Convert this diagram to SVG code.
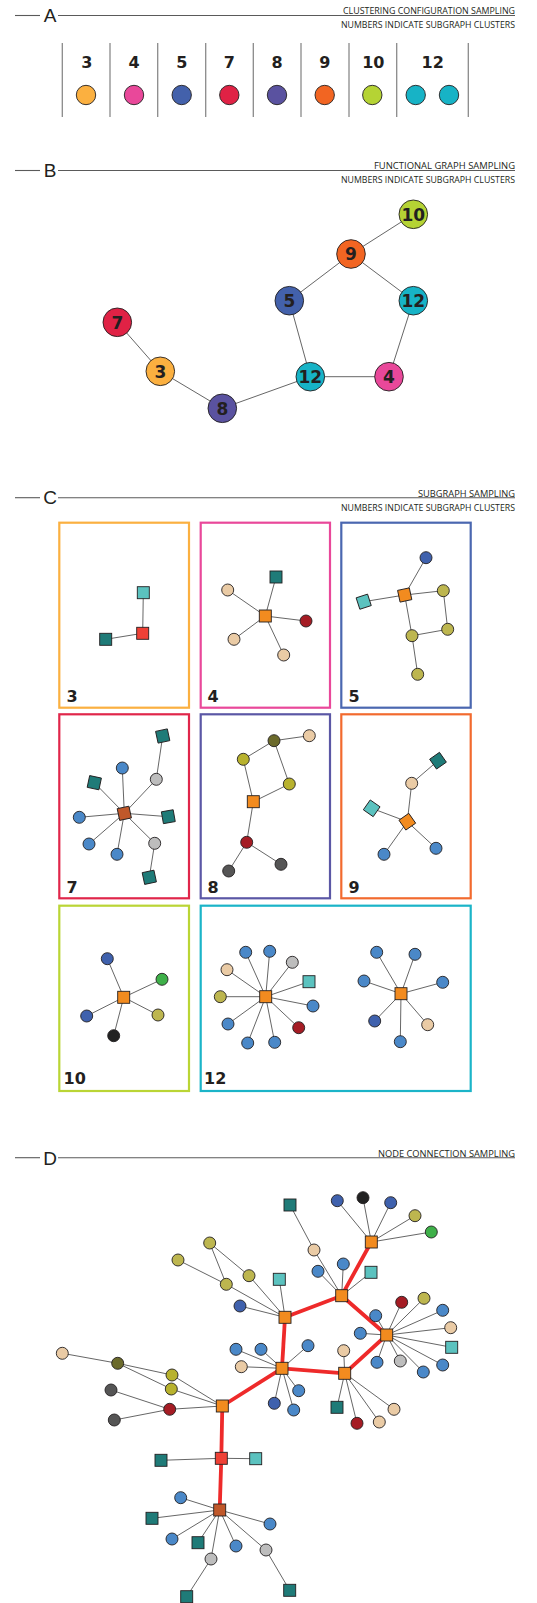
<svg xmlns="http://www.w3.org/2000/svg" width="537" height="1603" viewBox="0 0 537 1603">
<style>
.hl{stroke:#5a5a5a;stroke-width:1.1;fill:none}
.dv{stroke:#8a8a8a;stroke-width:1.3}
.sl{font-family:"Liberation Sans",Arial,sans-serif;font-size:19px;fill:#231F20}
.ht{font-family:"Open Sans","Liberation Sans",sans-serif;font-size:8.5px;fill:#231F20}
.num{font-family:"DejaVu Sans",Verdana,sans-serif;font-weight:bold;font-size:16px;fill:#231F20;text-anchor:middle}
.bn{font-family:"DejaVu Sans",Verdana,sans-serif;font-weight:bold;font-size:17px;fill:#231F20;text-anchor:middle}
.bl{font-family:"DejaVu Sans",Verdana,sans-serif;font-weight:bold;font-size:16px;fill:#231F20}
.n{stroke:#231F20;stroke-width:0.9}
.e{stroke:#4a4a4a;stroke-width:0.85}
.r{stroke:#EE2A2A;stroke-width:3.8;stroke-linecap:round}
.bx{fill:none;stroke-width:2.2}
.k3{fill:#FBB040}.k4{fill:#E9489A}.k5{fill:#4361AB}.k7{fill:#E02245}.k8{fill:#5A52A0}.k9{fill:#F26522}.k10{fill:#B5D334}.k12{fill:#17B3C6}
.org{fill:#F28B1F}.dt{fill:#1F7B78}.lt{fill:#5BC2BF}.rs{fill:#EF4136}.ru{fill:#C0582A}.tan{fill:#EACBA5}.dr{fill:#A51C24}
.lb{fill:#4A88C8}.db{fill:#3F61AD}.ol{fill:#BDB64F}.yo{fill:#B8B22E}.do{fill:#6B6A2B}.gr{fill:#BDBDBD}.dg{fill:#555555}.bk{fill:#222222}.gn{fill:#3EB049}
</style>

<!-- Section headers -->
<g id="header-A">
<line class="hl" x1="15" y1="15.5" x2="40" y2="15.5"/><line class="hl" x1="58" y1="15.5" x2="515" y2="15.5"/>
<text class="sl" x="50" y="22" text-anchor="middle">A</text>
<text class="ht" x="515" y="14" text-anchor="end" textLength="172" lengthAdjust="spacingAndGlyphs">CLUSTERING CONFIGURATION SAMPLING</text>
<text class="ht" x="515" y="28.3" text-anchor="end" textLength="174" lengthAdjust="spacingAndGlyphs">NUMBERS INDICATE SUBGRAPH CLUSTERS</text>
</g>
<g id="header-B">
<line class="hl" x1="15" y1="170.5" x2="40" y2="170.5"/><line class="hl" x1="58" y1="170.5" x2="515" y2="170.5"/>
<text class="sl" x="50" y="177" text-anchor="middle">B</text>
<text class="ht" x="515" y="169" text-anchor="end" textLength="141" lengthAdjust="spacingAndGlyphs">FUNCTIONAL GRAPH SAMPLING</text>
<text class="ht" x="515" y="183.3" text-anchor="end" textLength="174" lengthAdjust="spacingAndGlyphs">NUMBERS INDICATE SUBGRAPH CLUSTERS</text>
</g>
<g id="header-C">
<line class="hl" x1="15" y1="497.7" x2="40" y2="497.7"/><line class="hl" x1="58" y1="497.7" x2="515" y2="497.7"/>
<text class="sl" x="50" y="504.3" text-anchor="middle">C</text>
<text class="ht" x="515" y="496.7" text-anchor="end" textLength="97" lengthAdjust="spacingAndGlyphs">SUBGRAPH SAMPLING</text>
<text class="ht" x="515" y="510.5" text-anchor="end" textLength="174" lengthAdjust="spacingAndGlyphs">NUMBERS INDICATE SUBGRAPH CLUSTERS</text>
</g>
<g id="header-D">
<line class="hl" x1="15" y1="1157.7" x2="40" y2="1157.7"/><line class="hl" x1="58" y1="1157.7" x2="515" y2="1157.7"/>
<text class="sl" x="50" y="1164.5" text-anchor="middle">D</text>
<text class="ht" x="515" y="1156.7" text-anchor="end" textLength="137" lengthAdjust="spacingAndGlyphs">NODE CONNECTION SAMPLING</text>
</g>

<!-- Section A -->
<g id="A-dividers">
<line class="dv" x1="62.3" y1="43" x2="62.3" y2="117"/><line class="dv" x1="110" y1="43" x2="110" y2="117"/>
<line class="dv" x1="157.7" y1="43" x2="157.7" y2="117"/><line class="dv" x1="205.7" y1="43" x2="205.7" y2="117"/>
<line class="dv" x1="253.3" y1="43" x2="253.3" y2="117"/><line class="dv" x1="301" y1="43" x2="301" y2="117"/>
<line class="dv" x1="349" y1="43" x2="349" y2="117"/><line class="dv" x1="396.7" y1="43" x2="396.7" y2="117"/>
<line class="dv" x1="468.3" y1="43" x2="468.3" y2="117"/>
</g>
<g id="A-3"><text class="num" x="86.7" y="68">3</text><circle class="n k3" cx="86" cy="95" r="9.7"/></g>
<g id="A-4"><text class="num" x="134" y="68">4</text><circle class="n k4" cx="134" cy="95" r="9.7"/></g>
<g id="A-5"><text class="num" x="181.7" y="68">5</text><circle class="n k5" cx="181.7" cy="95" r="9.7"/></g>
<g id="A-7"><text class="num" x="229.3" y="68">7</text><circle class="n k7" cx="229.3" cy="95" r="9.7"/></g>
<g id="A-8"><text class="num" x="277" y="68">8</text><circle class="n k8" cx="277" cy="95" r="9.7"/></g>
<g id="A-9"><text class="num" x="324.7" y="68">9</text><circle class="n k9" cx="324.7" cy="95" r="9.7"/></g>
<g id="A-10"><text class="num" x="373.3" y="68">10</text><circle class="n k10" cx="372.3" cy="95" r="9.7"/></g>
<g id="A-12"><text class="num" x="432.7" y="68">12</text><circle class="n k12" cx="415.7" cy="95" r="9.7"/><circle class="n k12" cx="449" cy="95" r="9.7"/></g>

<!-- Connectors -->
<g id="connectors">
<!-- B -->
<line class="e" x1="413.3" y1="214.3" x2="351" y2="254"/>
<line class="e" x1="351" y1="254" x2="289.3" y2="300.7"/>
<line class="e" x1="351" y1="254" x2="413.3" y2="300.7"/>
<line class="e" x1="289.3" y1="300.7" x2="310.3" y2="376.7"/>
<line class="e" x1="413.3" y1="300.7" x2="389" y2="376.7"/>
<line class="e" x1="310.3" y1="376.7" x2="389" y2="376.7"/>
<line class="e" x1="117.3" y1="322.3" x2="160.3" y2="371.3"/>
<line class="e" x1="160.3" y1="371.3" x2="222.3" y2="408.3"/>
<line class="e" x1="222.3" y1="408.3" x2="310.3" y2="376.7"/>
<!-- C box 3 -->
<line class="e" x1="143.3" y1="592.7" x2="142.7" y2="633.3"/>
<line class="e" x1="142.7" y1="633.3" x2="105.7" y2="639.3"/>
<!-- C box 4 -->
<line class="e" x1="265.3" y1="616" x2="276" y2="577"/>
<line class="e" x1="265.3" y1="616" x2="227.7" y2="590"/>
<line class="e" x1="265.3" y1="616" x2="306" y2="621"/>
<line class="e" x1="265.3" y1="616" x2="234" y2="639.3"/>
<line class="e" x1="265.3" y1="616" x2="283.7" y2="655"/>
<!-- C box 5 -->
<line class="e" x1="404.7" y1="595" x2="426" y2="557.7"/>
<line class="e" x1="404.7" y1="595" x2="363.7" y2="601.7"/>
<line class="e" x1="404.7" y1="595" x2="443.3" y2="590.7"/>
<line class="e" x1="404.7" y1="595" x2="412" y2="635.7"/>
<line class="e" x1="443.3" y1="590.7" x2="447.7" y2="629.3"/>
<line class="e" x1="447.7" y1="629.3" x2="412" y2="635.7"/>
<line class="e" x1="412" y1="635.7" x2="417.7" y2="674.3"/>
<!-- C box 7 -->
<line class="e" x1="124.3" y1="813.3" x2="122.3" y2="768"/>
<line class="e" x1="124.3" y1="813.3" x2="94.3" y2="782.7"/>
<line class="e" x1="124.3" y1="813.3" x2="79.3" y2="817.3"/>
<line class="e" x1="124.3" y1="813.3" x2="168.3" y2="816.7"/>
<line class="e" x1="124.3" y1="813.3" x2="89" y2="844"/>
<line class="e" x1="124.3" y1="813.3" x2="117" y2="854.3"/>
<line class="e" x1="124.3" y1="813.3" x2="156.3" y2="779.3"/>
<line class="e" x1="124.3" y1="813.3" x2="154.7" y2="843.3"/>
<line class="e" x1="156.3" y1="779.3" x2="162.7" y2="736"/>
<line class="e" x1="154.7" y1="843.3" x2="149.3" y2="877.3"/>
<!-- C box 8 -->
<line class="e" x1="253.3" y1="801.7" x2="243.3" y2="759.3"/>
<line class="e" x1="243.3" y1="759.3" x2="274" y2="740.7"/>
<line class="e" x1="274" y1="740.7" x2="309.3" y2="735.7"/>
<line class="e" x1="274" y1="740.7" x2="289.3" y2="784"/>
<line class="e" x1="289.3" y1="784" x2="253.3" y2="801.7"/>
<line class="e" x1="253.3" y1="801.7" x2="246.7" y2="842.3"/>
<line class="e" x1="246.7" y1="842.3" x2="228.7" y2="871"/>
<line class="e" x1="246.7" y1="842.3" x2="281" y2="864.3"/>
<!-- C box 9 -->
<line class="e" x1="407.3" y1="821.7" x2="411.7" y2="783.3"/>
<line class="e" x1="411.7" y1="783.3" x2="438" y2="760.7"/>
<line class="e" x1="407.3" y1="821.7" x2="371.7" y2="808.3"/>
<line class="e" x1="407.3" y1="821.7" x2="384" y2="854.3"/>
<line class="e" x1="407.3" y1="821.7" x2="436" y2="848.3"/>
<!-- C box 10 -->
<line class="e" x1="123.7" y1="997.3" x2="107.3" y2="958.7"/>
<line class="e" x1="123.7" y1="997.3" x2="162" y2="979.3"/>
<line class="e" x1="123.7" y1="997.3" x2="158" y2="1015"/>
<line class="e" x1="123.7" y1="997.3" x2="86.7" y2="1016"/>
<line class="e" x1="123.7" y1="997.3" x2="113.7" y2="1035.7"/>
<!-- C box 12 a -->
<line class="e" x1="265.7" y1="996.7" x2="245.7" y2="952.3"/>
<line class="e" x1="265.7" y1="996.7" x2="269.7" y2="951.3"/>
<line class="e" x1="265.7" y1="996.7" x2="292.3" y2="962.3"/>
<line class="e" x1="265.7" y1="996.7" x2="309" y2="981.7"/>
<line class="e" x1="265.7" y1="996.7" x2="313" y2="1006"/>
<line class="e" x1="265.7" y1="996.7" x2="298.7" y2="1027.7"/>
<line class="e" x1="265.7" y1="996.7" x2="274.7" y2="1042.3"/>
<line class="e" x1="265.7" y1="996.7" x2="247.7" y2="1043"/>
<line class="e" x1="265.7" y1="996.7" x2="228" y2="1024"/>
<line class="e" x1="265.7" y1="996.7" x2="220.3" y2="996.7"/>
<line class="e" x1="265.7" y1="996.7" x2="227" y2="969.7"/>
<!-- C box 12 b -->
<line class="e" x1="401" y1="993.7" x2="376.7" y2="952.3"/>
<line class="e" x1="401" y1="993.7" x2="415" y2="954.3"/>
<line class="e" x1="401" y1="993.7" x2="442.7" y2="982.3"/>
<line class="e" x1="401" y1="993.7" x2="427.7" y2="1024.7"/>
<line class="e" x1="401" y1="993.7" x2="400.3" y2="1041.7"/>
<line class="e" x1="401" y1="993.7" x2="374.7" y2="1021"/>
<line class="e" x1="401" y1="993.7" x2="364" y2="981"/>
<!-- D thin -->
<line class="e" x1="371.3" y1="1242" x2="337.3" y2="1200.7"/>
<line class="e" x1="371.3" y1="1242" x2="363" y2="1197.7"/>
<line class="e" x1="371.3" y1="1242" x2="390.7" y2="1202.7"/>
<line class="e" x1="371.3" y1="1242" x2="415" y2="1215.7"/>
<line class="e" x1="371.3" y1="1242" x2="431.3" y2="1232"/>
<line class="e" x1="314" y1="1250" x2="290" y2="1205"/>
<line class="e" x1="341.7" y1="1295.7" x2="314" y2="1250"/>
<line class="e" x1="341.7" y1="1295.7" x2="343.3" y2="1264"/>
<line class="e" x1="341.7" y1="1295.7" x2="371" y2="1272.3"/>
<line class="e" x1="341.7" y1="1295.7" x2="318" y2="1271.3"/>
<line class="e" x1="285" y1="1317.3" x2="226.3" y2="1284.3"/>
<line class="e" x1="285" y1="1317.3" x2="249" y2="1275.7"/>
<line class="e" x1="285" y1="1317.3" x2="279.3" y2="1279.3"/>
<line class="e" x1="285" y1="1317.3" x2="240" y2="1306"/>
<line class="e" x1="209.7" y1="1243" x2="226.3" y2="1284.3"/>
<line class="e" x1="209.7" y1="1243" x2="249" y2="1275.7"/>
<line class="e" x1="178" y1="1260" x2="226.3" y2="1284.3"/>
<line class="e" x1="386.7" y1="1335" x2="375.7" y2="1315.7"/>
<line class="e" x1="386.7" y1="1335" x2="401.7" y2="1302.3"/>
<line class="e" x1="386.7" y1="1335" x2="424" y2="1298.3"/>
<line class="e" x1="386.7" y1="1335" x2="442.7" y2="1310.3"/>
<line class="e" x1="386.7" y1="1335" x2="450.7" y2="1327.7"/>
<line class="e" x1="386.7" y1="1335" x2="451.7" y2="1347.3"/>
<line class="e" x1="386.7" y1="1335" x2="442.7" y2="1365"/>
<line class="e" x1="386.7" y1="1335" x2="423.3" y2="1372"/>
<line class="e" x1="386.7" y1="1335" x2="400.3" y2="1361"/>
<line class="e" x1="386.7" y1="1335" x2="377" y2="1362.3"/>
<line class="e" x1="386.7" y1="1335" x2="360.3" y2="1333.3"/>
<line class="e" x1="282" y1="1368.3" x2="236" y2="1349.3"/>
<line class="e" x1="282" y1="1368.3" x2="261" y2="1349.3"/>
<line class="e" x1="282" y1="1368.3" x2="241.3" y2="1366.7"/>
<line class="e" x1="282" y1="1368.3" x2="308" y2="1345.7"/>
<line class="e" x1="282" y1="1368.3" x2="298.7" y2="1390.7"/>
<line class="e" x1="282" y1="1368.3" x2="274.3" y2="1403.3"/>
<line class="e" x1="282" y1="1368.3" x2="293.7" y2="1410"/>
<line class="e" x1="344.7" y1="1373.3" x2="343.7" y2="1350.7"/>
<line class="e" x1="344.7" y1="1373.3" x2="337" y2="1407.3"/>
<line class="e" x1="344.7" y1="1373.3" x2="357" y2="1423.3"/>
<line class="e" x1="344.7" y1="1373.3" x2="379.3" y2="1422"/>
<line class="e" x1="344.7" y1="1373.3" x2="394" y2="1409.3"/>
<line class="e" x1="222.3" y1="1406" x2="172" y2="1375"/>
<line class="e" x1="222.3" y1="1406" x2="171.3" y2="1389"/>
<line class="e" x1="222.3" y1="1406" x2="169.7" y2="1409.3"/>
<line class="e" x1="169.7" y1="1409.3" x2="111" y2="1390"/>
<line class="e" x1="169.7" y1="1409.3" x2="114.3" y2="1420"/>
<line class="e" x1="117.7" y1="1363.3" x2="62.3" y2="1353.3"/>
<line class="e" x1="117.7" y1="1363.3" x2="172" y2="1375"/>
<line class="e" x1="117.7" y1="1363.3" x2="171.3" y2="1389"/>
<line class="e" x1="221.3" y1="1458.3" x2="161" y2="1460.3"/>
<line class="e" x1="221.3" y1="1458.3" x2="255.7" y2="1458.7"/>
<line class="e" x1="219.7" y1="1510" x2="180.7" y2="1497.7"/>
<line class="e" x1="219.7" y1="1510" x2="152" y2="1518.3"/>
<line class="e" x1="219.7" y1="1510" x2="270" y2="1524"/>
<line class="e" x1="219.7" y1="1510" x2="172" y2="1539"/>
<line class="e" x1="219.7" y1="1510" x2="198" y2="1542.7"/>
<line class="e" x1="219.7" y1="1510" x2="236" y2="1546"/>
<line class="e" x1="219.7" y1="1510" x2="266" y2="1550"/>
<line class="e" x1="219.7" y1="1510" x2="211" y2="1559"/>
<line class="e" x1="211" y1="1559" x2="186.7" y2="1596.7"/>
<line class="e" x1="266" y1="1550" x2="289.7" y2="1590.3"/>
<!-- D red -->
<line class="r" x1="371.3" y1="1242" x2="341.7" y2="1295.7"/>
<line class="r" x1="341.7" y1="1295.7" x2="285" y2="1317.3"/>
<line class="r" x1="341.7" y1="1295.7" x2="386.7" y2="1335"/>
<line class="r" x1="285" y1="1317.3" x2="282" y2="1368.3"/>
<line class="r" x1="386.7" y1="1335" x2="344.7" y2="1373.3"/>
<line class="r" x1="282" y1="1368.3" x2="344.7" y2="1373.3"/>
<line class="r" x1="282" y1="1368.3" x2="222.3" y2="1406"/>
<line class="r" x1="222.3" y1="1406" x2="221.3" y2="1458.3"/>
<line class="r" x1="221.3" y1="1458.3" x2="219.7" y2="1510"/>
</g>

<!-- Section B nodes -->
<g id="B-10"><circle class="n k10" cx="413.3" cy="214.3" r="14.3"/><text class="bn" x="413.3" y="220.5">10</text></g>
<g id="B-9"><circle class="n k9" cx="351" cy="254" r="14.3"/><text class="bn" x="351" y="260.2">9</text></g>
<g id="B-5"><circle class="n k5" cx="289.3" cy="300.7" r="14.3"/><text class="bn" x="289.3" y="306.9">5</text></g>
<g id="B-12a"><circle class="n k12" cx="413.3" cy="300.7" r="14.3"/><text class="bn" x="413.3" y="306.9">12</text></g>
<g id="B-7"><circle class="n k7" cx="117.3" cy="322.3" r="14.3"/><text class="bn" x="117.3" y="328.5">7</text></g>
<g id="B-3"><circle class="n k3" cx="160.3" cy="371.3" r="14.3"/><text class="bn" x="160.3" y="377.5">3</text></g>
<g id="B-12b"><circle class="n k12" cx="310.3" cy="376.7" r="14.3"/><text class="bn" x="310.3" y="382.9">12</text></g>
<g id="B-4"><circle class="n k4" cx="389" cy="376.7" r="14.3"/><text class="bn" x="389" y="382.9">4</text></g>
<g id="B-8"><circle class="n k8" cx="222.3" cy="408.3" r="14.3"/><text class="bn" x="222.3" y="414.5">8</text></g>

<!-- Section C boxes -->
<g id="C-box3"><rect class="bx" x="59.3" y="522.7" width="129.7" height="185" stroke="#FBB040"/><text class="bl" x="66.5" y="701.7">3</text></g>
<g id="C-box4"><rect class="bx" x="200.7" y="522.7" width="129.3" height="185" stroke="#E9489A"/><text class="bl" x="207.5" y="701.7">4</text></g>
<g id="C-box5"><rect class="bx" x="341.3" y="522.7" width="129.4" height="185" stroke="#4A67B0"/><text class="bl" x="348.5" y="701.7">5</text></g>
<g id="C-box7"><rect class="bx" x="59.3" y="714.3" width="129.7" height="184" stroke="#E0264A"/><text class="bl" x="66.5" y="892.7">7</text></g>
<g id="C-box8"><rect class="bx" x="200.7" y="714.3" width="129.3" height="184" stroke="#5B57A5"/><text class="bl" x="207.5" y="892.7">8</text></g>
<g id="C-box9"><rect class="bx" x="341.3" y="714.3" width="129.4" height="184" stroke="#F26A2E"/><text class="bl" x="348.5" y="892.7">9</text></g>
<g id="C-box10"><rect class="bx" x="59.3" y="905.7" width="129.7" height="185.3" stroke="#BAD535"/><text class="bl" x="63.5" y="1084.3">10</text></g>
<g id="C-box12"><rect class="bx" x="200.7" y="905.7" width="270" height="185.3" stroke="#1BB4C8"/><text class="bl" x="204" y="1084.3">12</text></g>

<!-- C box 3 nodes -->
<g id="c3-a"><rect class="n lt" x="137.3" y="586.7" width="12" height="12"/></g>
<g id="c3-hub"><rect class="n rs" x="136.7" y="627.3" width="12" height="12"/></g>
<g id="c3-b"><rect class="n dt" x="99.7" y="633.3" width="12" height="12"/></g>
<!-- C box 4 nodes -->
<g id="c4-a"><rect class="n dt" x="270" y="571" width="12" height="12"/></g>
<g id="c4-b"><circle class="n tan" cx="227.7" cy="590" r="6"/></g>
<g id="c4-c"><circle class="n dr" cx="306" cy="621" r="6"/></g>
<g id="c4-d"><circle class="n tan" cx="234" cy="639.3" r="6"/></g>
<g id="c4-e"><circle class="n tan" cx="283.7" cy="655" r="6"/></g>
<g id="c4-hub"><rect class="n org" x="259.3" y="610" width="12" height="12"/></g>
<!-- C box 5 nodes -->
<g id="c5-a"><circle class="n db" cx="426" cy="557.7" r="6"/></g>
<g id="c5-b"><rect class="n lt" x="357.7" y="595.7" width="12" height="12" transform="rotate(-18 363.7 601.7)"/></g>
<g id="c5-c"><circle class="n ol" cx="443.3" cy="590.7" r="6"/></g>
<g id="c5-d"><circle class="n ol" cx="447.7" cy="629.3" r="6"/></g>
<g id="c5-e"><circle class="n ol" cx="412" cy="635.7" r="6"/></g>
<g id="c5-f"><circle class="n ol" cx="417.7" cy="674.3" r="6"/></g>
<g id="c5-hub"><rect class="n org" x="398.7" y="589" width="12" height="12" transform="rotate(-12 404.7 595)"/></g>
<!-- C box 7 nodes -->
<g id="c7-a"><rect class="n dt" x="156.7" y="730" width="12" height="12" transform="rotate(-12 162.7 736)"/></g>
<g id="c7-b"><circle class="n gr" cx="156.3" cy="779.3" r="6"/></g>
<g id="c7-c"><circle class="n lb" cx="122.3" cy="768" r="6"/></g>
<g id="c7-d"><rect class="n dt" x="88.3" y="776.7" width="12" height="12" transform="rotate(12 94.3 782.7)"/></g>
<g id="c7-e"><circle class="n lb" cx="79.3" cy="817.3" r="6"/></g>
<g id="c7-f"><rect class="n dt" x="162.3" y="810.7" width="12" height="12" transform="rotate(-10 168.3 816.7)"/></g>
<g id="c7-g"><circle class="n lb" cx="89" cy="844" r="6"/></g>
<g id="c7-h"><circle class="n lb" cx="117" cy="854.3" r="6"/></g>
<g id="c7-i"><circle class="n gr" cx="154.7" cy="843.3" r="6"/></g>
<g id="c7-j"><rect class="n dt" x="143.3" y="871.3" width="12" height="12" transform="rotate(-12 149.3 877.3)"/></g>
<g id="c7-hub"><rect class="n ru" x="118.3" y="807.3" width="12" height="12" transform="rotate(-12 124.3 813.3)"/></g>
<!-- C box 8 nodes -->
<g id="c8-a"><circle class="n yo" cx="243.3" cy="759.3" r="6"/></g>
<g id="c8-b"><circle class="n do" cx="274" cy="740.7" r="6"/></g>
<g id="c8-c"><circle class="n tan" cx="309.3" cy="735.7" r="6"/></g>
<g id="c8-d"><circle class="n yo" cx="289.3" cy="784" r="6"/></g>
<g id="c8-e"><circle class="n dr" cx="246.7" cy="842.3" r="6"/></g>
<g id="c8-f"><circle class="n dg" cx="228.7" cy="871" r="6"/></g>
<g id="c8-g"><circle class="n dg" cx="281" cy="864.3" r="6"/></g>
<g id="c8-hub"><rect class="n org" x="247.3" y="795.7" width="12" height="12"/></g>
<!-- C box 9 nodes -->
<g id="c9-a"><circle class="n tan" cx="411.7" cy="783.3" r="6"/></g>
<g id="c9-b"><rect class="n dt" x="432" y="754.7" width="12" height="12" transform="rotate(-35 438 760.7)"/></g>
<g id="c9-c"><rect class="n lt" x="365.7" y="802.3" width="12" height="12" transform="rotate(35 371.7 808.3)"/></g>
<g id="c9-d"><circle class="n lb" cx="384" cy="854.3" r="6"/></g>
<g id="c9-e"><circle class="n lb" cx="436" cy="848.3" r="6"/></g>
<g id="c9-hub"><rect class="n org" x="401.3" y="815.7" width="12" height="12" transform="rotate(-35 407.3 821.7)"/></g>
<!-- C box 10 nodes -->
<g id="c10-a"><circle class="n db" cx="107.3" cy="958.7" r="6"/></g>
<g id="c10-b"><circle class="n gn" cx="162" cy="979.3" r="6"/></g>
<g id="c10-c"><circle class="n ol" cx="158" cy="1015" r="6"/></g>
<g id="c10-d"><circle class="n db" cx="86.7" cy="1016" r="6"/></g>
<g id="c10-e"><circle class="n bk" cx="113.7" cy="1035.7" r="6"/></g>
<g id="c10-hub"><rect class="n org" x="117.7" y="991.3" width="12" height="12"/></g>
<!-- C box 12 nodes -->
<g id="c12-a1"><circle class="n lb" cx="245.7" cy="952.3" r="6"/></g>
<g id="c12-a2"><circle class="n lb" cx="269.7" cy="951.3" r="6"/></g>
<g id="c12-a3"><circle class="n gr" cx="292.3" cy="962.3" r="6"/></g>
<g id="c12-a4"><rect class="n lt" x="303" y="975.7" width="12" height="12"/></g>
<g id="c12-a5"><circle class="n lb" cx="313" cy="1006" r="6"/></g>
<g id="c12-a6"><circle class="n dr" cx="298.7" cy="1027.7" r="6"/></g>
<g id="c12-a7"><circle class="n lb" cx="274.7" cy="1042.3" r="6"/></g>
<g id="c12-a8"><circle class="n lb" cx="247.7" cy="1043" r="6"/></g>
<g id="c12-a9"><circle class="n lb" cx="228" cy="1024" r="6"/></g>
<g id="c12-a10"><circle class="n ol" cx="220.3" cy="996.7" r="6"/></g>
<g id="c12-a11"><circle class="n tan" cx="227" cy="969.7" r="6"/></g>
<g id="c12-ahub"><rect class="n org" x="259.7" y="990.7" width="12" height="12"/></g>
<g id="c12-b1"><circle class="n lb" cx="376.7" cy="952.3" r="6"/></g>
<g id="c12-b2"><circle class="n lb" cx="415" cy="954.3" r="6"/></g>
<g id="c12-b3"><circle class="n lb" cx="442.7" cy="982.3" r="6"/></g>
<g id="c12-b4"><circle class="n tan" cx="427.7" cy="1024.7" r="6"/></g>
<g id="c12-b5"><circle class="n lb" cx="400.3" cy="1041.7" r="6"/></g>
<g id="c12-b6"><circle class="n db" cx="374.7" cy="1021" r="6"/></g>
<g id="c12-b7"><circle class="n lb" cx="364" cy="981" r="6"/></g>
<g id="c12-bhub"><rect class="n org" x="395" y="987.7" width="12" height="12"/></g>

<!-- Section D nodes -->
<g id="d-1"><rect class="n dt" x="284" y="1199" width="12" height="12"/></g>
<g id="d-2"><circle class="n db" cx="337.3" cy="1200.7" r="6"/></g>
<g id="d-3"><circle class="n bk" cx="363" cy="1197.7" r="6"/></g>
<g id="d-4"><circle class="n db" cx="390.7" cy="1202.7" r="6"/></g>
<g id="d-5"><circle class="n ol" cx="415" cy="1215.7" r="6"/></g>
<g id="d-6"><circle class="n gn" cx="431.3" cy="1232" r="6"/></g>
<g id="d-7"><circle class="n ol" cx="209.7" cy="1243" r="6"/></g>
<g id="d-8"><circle class="n ol" cx="178" cy="1260" r="6"/></g>
<g id="d-9"><circle class="n tan" cx="314" cy="1250" r="6"/></g>
<g id="d-10"><circle class="n lb" cx="343.3" cy="1264" r="6"/></g>
<g id="d-11"><rect class="n lt" x="365" y="1266.3" width="12" height="12"/></g>
<g id="d-12"><circle class="n lb" cx="318" cy="1271.3" r="6"/></g>
<g id="d-13"><circle class="n ol" cx="249" cy="1275.7" r="6"/></g>
<g id="d-14"><rect class="n lt" x="273.3" y="1273.3" width="12" height="12"/></g>
<g id="d-15"><circle class="n ol" cx="226.3" cy="1284.3" r="6"/></g>
<g id="d-16"><circle class="n db" cx="240" cy="1306" r="6"/></g>
<g id="d-17"><circle class="n lb" cx="375.7" cy="1315.7" r="6"/></g>
<g id="d-18"><circle class="n dr" cx="401.7" cy="1302.3" r="6"/></g>
<g id="d-19"><circle class="n ol" cx="424" cy="1298.3" r="6"/></g>
<g id="d-20"><circle class="n lb" cx="442.7" cy="1310.3" r="6"/></g>
<g id="d-21"><circle class="n tan" cx="450.7" cy="1327.7" r="6"/></g>
<g id="d-22"><rect class="n lt" x="445.7" y="1341.3" width="12" height="12"/></g>
<g id="d-23"><circle class="n lb" cx="442.7" cy="1365" r="6"/></g>
<g id="d-24"><circle class="n lb" cx="423.3" cy="1372" r="6"/></g>
<g id="d-25"><circle class="n gr" cx="400.3" cy="1361" r="6"/></g>
<g id="d-26"><circle class="n lb" cx="377" cy="1362.3" r="6"/></g>
<g id="d-27"><circle class="n lb" cx="360.3" cy="1333.3" r="6"/></g>
<g id="d-28"><circle class="n lb" cx="236" cy="1349.3" r="6"/></g>
<g id="d-29"><circle class="n lb" cx="261" cy="1349.3" r="6"/></g>
<g id="d-30"><circle class="n tan" cx="241.3" cy="1366.7" r="6"/></g>
<g id="d-31"><circle class="n lb" cx="308" cy="1345.7" r="6"/></g>
<g id="d-32"><circle class="n lb" cx="298.7" cy="1390.7" r="6"/></g>
<g id="d-33"><circle class="n db" cx="274.3" cy="1403.3" r="6"/></g>
<g id="d-34"><circle class="n lb" cx="293.7" cy="1410" r="6"/></g>
<g id="d-35"><circle class="n tan" cx="343.7" cy="1350.7" r="6"/></g>
<g id="d-36"><rect class="n dt" x="331" y="1401.3" width="12" height="12"/></g>
<g id="d-37"><circle class="n dr" cx="357" cy="1423.3" r="6"/></g>
<g id="d-38"><circle class="n tan" cx="379.3" cy="1422" r="6"/></g>
<g id="d-39"><circle class="n tan" cx="394" cy="1409.3" r="6"/></g>
<g id="d-40"><circle class="n tan" cx="62.3" cy="1353.3" r="6"/></g>
<g id="d-41"><circle class="n do" cx="117.7" cy="1363.3" r="6"/></g>
<g id="d-42"><circle class="n yo" cx="172" cy="1375" r="6"/></g>
<g id="d-43"><circle class="n yo" cx="171.3" cy="1389" r="6"/></g>
<g id="d-44"><circle class="n dg" cx="111" cy="1390" r="6"/></g>
<g id="d-45"><circle class="n dr" cx="169.7" cy="1409.3" r="6"/></g>
<g id="d-46"><circle class="n dg" cx="114.3" cy="1420" r="6"/></g>
<g id="d-47"><rect class="n dt" x="155" y="1454.3" width="12" height="12"/></g>
<g id="d-48"><rect class="n lt" x="249.7" y="1452.7" width="12" height="12"/></g>
<g id="d-49"><circle class="n lb" cx="180.7" cy="1497.7" r="6"/></g>
<g id="d-50"><rect class="n dt" x="146" y="1512.3" width="12" height="12"/></g>
<g id="d-51"><circle class="n lb" cx="270" cy="1524" r="6"/></g>
<g id="d-52"><circle class="n lb" cx="172" cy="1539" r="6"/></g>
<g id="d-53"><rect class="n dt" x="192" y="1536.7" width="12" height="12"/></g>
<g id="d-54"><circle class="n lb" cx="236" cy="1546" r="6"/></g>
<g id="d-55"><circle class="n gr" cx="266" cy="1550" r="6"/></g>
<g id="d-56"><circle class="n gr" cx="211" cy="1559" r="6"/></g>
<g id="d-57"><rect class="n dt" x="180.7" y="1590.7" width="12" height="12"/></g>
<g id="d-58"><rect class="n dt" x="283.7" y="1584.3" width="12" height="12"/></g>
<g id="d-hubA"><rect class="n org" x="365.3" y="1236" width="12" height="12"/></g>
<g id="d-hubB"><rect class="n org" x="335.7" y="1289.7" width="12" height="12"/></g>
<g id="d-hubC"><rect class="n org" x="279" y="1311.3" width="12" height="12"/></g>
<g id="d-hubD"><rect class="n org" x="380.7" y="1329" width="12" height="12"/></g>
<g id="d-hubE"><rect class="n org" x="276" y="1362.3" width="12" height="12"/></g>
<g id="d-hubF"><rect class="n org" x="338.7" y="1367.3" width="12" height="12"/></g>
<g id="d-hubG"><rect class="n org" x="216.3" y="1400" width="12" height="12"/></g>
<g id="d-hubH"><rect class="n rs" x="215.3" y="1452.3" width="12" height="12"/></g>
<g id="d-hubI"><rect class="n ru" x="213.7" y="1504" width="12" height="12"/></g>
</svg>
